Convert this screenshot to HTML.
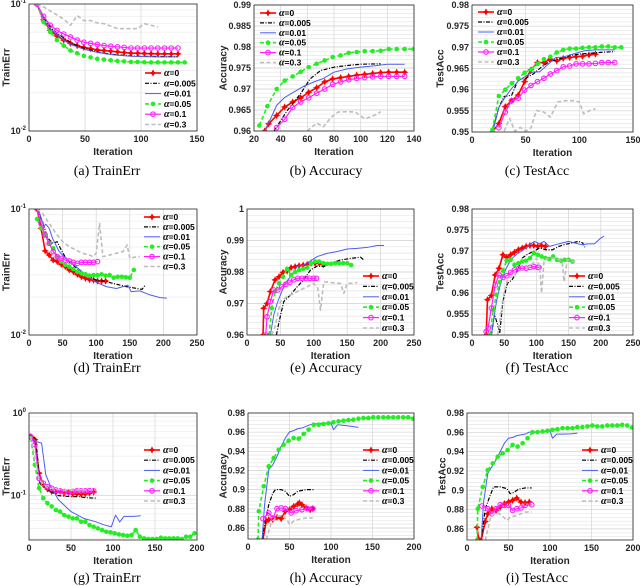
<!DOCTYPE html>
<html><head><meta charset="utf-8">
<style>
html,body{margin:0;padding:0;background:#fff;}
svg{display:block;}
text{font-family:"Liberation Sans",sans-serif;}
.tk{font-size:9px;font-weight:bold;fill:#262626;}
.lg{font-size:8.5px;font-weight:bold;fill:#000;}
.al{font-size:10px;font-weight:bold;fill:#262626;}
.cap{font-family:"Liberation Serif",serif;font-size:14px;fill:#000;}
</style></head>
<body>
<svg id="fig" width="640" height="586" viewBox="0 0 640 586" xmlns="http://www.w3.org/2000/svg"></svg>
<script>
// ---------- Panel (a) TrainErr ----------
const aRx=[7,13,19,25,31,37,43,49,55,61,67,73,79,85,91,97,103,109,115,121,127,133];
const aRy=[0.1,0.075,0.062,0.056,0.052,0.049,0.047,0.0455,0.0445,0.0435,0.043,0.0425,0.042,0.0415,0.041,0.041,0.0408,0.0406,0.0405,0.0405,0.0405,0.0405];
const aKx=[7,13,19,25,31,37,43,49,55,61,67,73,79,85,91,97,103,109,115,121,127,133];
const aKy=[0.1,0.078,0.066,0.059,0.054,0.05,0.047,0.045,0.0435,0.042,0.041,0.0403,0.0398,0.0394,0.039,0.0388,0.0387,0.0386,0.0386,0.0385,0.0385,0.0385];
const aBx=[7,13,19,25,31,37,43,49,55,61,67,73,79,85,91,97,103,109,115,121,127,133];
const aBy=[0.1,0.076,0.064,0.057,0.052,0.048,0.046,0.044,0.0428,0.0416,0.0408,0.04,0.0395,0.0391,0.0388,0.0386,0.0385,0.0384,0.0383,0.0383,0.0383,0.0383];
const aGx=[7,13,19,25,31,37,43,49,55,61,67,73,79,85,91,97,103,109,115,121,127,133,139];
const aGy=[0.1,0.072,0.06,0.052,0.047,0.043,0.041,0.039,0.038,0.037,0.0365,0.036,0.0356,0.0353,0.035,0.035,0.0348,0.0347,0.0347,0.0347,0.0347,0.0347,0.0347];
const aMx=[7,13,19,25,31,37,43,49,55,61,67,73,79,85,91,97,103,109,115,121,127,133];
const aMy=[0.1,0.08,0.068,0.062,0.058,0.055,0.052,0.05,0.049,0.048,0.047,0.0465,0.046,0.0455,0.045,0.045,0.045,0.045,0.045,0.045,0.045,0.045];
const aEx=[7,13,19,25,31,37,43,49,55,61,67,73,79,85,91,97,103,109,115];
const aEy=[0.1,0.095,0.088,0.082,0.076,0.068,0.081,0.074,0.074,0.071,0.07,0.067,0.064,0.064,0.064,0.064,0.07,0.068,0.066];
// ---------- Panel (b) Accuracy ----------
const bRx=[28,31,37,43,49,55,61,67,73,79,85,91,97,103,109,115,121,127,133];
const bRy=[0.96,0.9617,0.9637,0.9657,0.9669,0.9679,0.9692,0.9703,0.9717,0.9724,0.9727,0.973,0.9733,0.9735,0.9737,0.9739,0.974,0.974,0.974];
const bKx=[35,45,55,62,70,80,90,100,115];
const bKy=[0.96,0.9649,0.9689,0.9724,0.9744,0.9752,0.9756,0.9759,0.976];
const bBx=[28,33,37,43,50,57,65,72,80,90,100,110,120,133];
const bBy=[0.96,0.9633,0.9661,0.968,0.9693,0.9706,0.9717,0.9725,0.974,0.9748,0.9752,0.9755,0.9759,0.9759];
const bGx=[24,30,37,43,49,55,61,67,73,79,85,91,97,103,109,115,121,127,133,140];
const bGy=[0.9613,0.9659,0.97,0.972,0.973,0.9741,0.9752,0.976,0.9768,0.9776,0.978,0.9786,0.9788,0.979,0.979,0.9791,0.9795,0.9795,0.9795,0.9795];
const bMx=[37,43,49,55,61,67,73,79,85,91,97,103,109,115,121,127,133];
const bMy=[0.9608,0.9628,0.9656,0.9669,0.9679,0.969,0.97,0.9711,0.9717,0.9722,0.9725,0.9727,0.9729,0.973,0.973,0.973,0.973];
const bEx=[60,67,72,78,83,90,96,103,110,115];
const bEy=[0.96,0.9619,0.961,0.9633,0.9645,0.9646,0.9645,0.9629,0.9637,0.9646];
// ---------- Panel (c) TestAcc ----------
const cRx=[19,25,31,37,43,49,55,61,67,73,79,85,91,97,103,109,115];
const cRy=[0.95,0.952,0.956,0.9574,0.9587,0.9619,0.9647,0.9664,0.9664,0.9672,0.9668,0.9674,0.9676,0.9678,0.9679,0.9682,0.9684];
const cKx=[20,25,30,37,43,50,57,65,72,80,90,100,110,120,133];
const cKy=[0.9511,0.9558,0.9584,0.9587,0.9623,0.9627,0.9637,0.9654,0.9666,0.9672,0.968,0.9684,0.9686,0.9688,0.969];
const cBx=[20,25,30,37,43,50,57,63,70,78,85,95,105,115,133];
const cBy=[0.9507,0.9558,0.9579,0.9603,0.962,0.9632,0.9642,0.9642,0.9658,0.9676,0.9677,0.9685,0.9692,0.9694,0.9694];
const cGx=[19,25,31,37,43,49,55,61,67,73,79,85,91,97,103,109,115,121,127,133,139];
const cGy=[0.9505,0.9585,0.96,0.9615,0.9627,0.964,0.9648,0.9661,0.9672,0.9678,0.9688,0.9694,0.9697,0.9697,0.9699,0.97,0.97,0.9702,0.9702,0.97,0.97];
const cMx=[25,31,37,43,49,55,61,67,73,79,85,91,97,103,109,115,121,127,133];
const cMy=[0.951,0.9547,0.9574,0.958,0.9599,0.961,0.9619,0.9627,0.9637,0.9645,0.9654,0.9656,0.9661,0.9661,0.9661,0.9662,0.9664,0.9664,0.9664];
const cEx=[30,35,40,45,50,55,60,67,73,80,87,95,100,104,110,115];
const cEy=[0.9502,0.9532,0.9502,0.9511,0.9502,0.951,0.9551,0.9547,0.9535,0.9571,0.9574,0.9574,0.9571,0.9543,0.9551,0.9555];
// ---------- Panel (d) TrainErr ----------
const dRx=[12,18,24,30,36,42,48,54,60,66,72,78,84,90,96,102,108,114];
const dRy=[0.1,0.0703,0.0465,0.0431,0.0393,0.0382,0.0364,0.0349,0.0328,0.0318,0.0303,0.029,0.0282,0.0275,0.0272,0.0268,0.0268,0.0268];
const dKx=[12,20,28,36,42,48,55,65,75,85,100,115,130,145,155,168,173];
const dKy=[0.1,0.0794,0.0585,0.0534,0.055,0.0472,0.0406,0.036,0.0328,0.0299,0.0273,0.0265,0.0253,0.0242,0.0237,0.023,0.0249];
const dBx=[14,22,25,30,35,45,55,70,85,100,115,130,140,147,152,165,180,195,205];
const dBy=[0.1,0.0724,0.0757,0.0703,0.0585,0.0459,0.0406,0.0349,0.0299,0.0262,0.0242,0.0234,0.0242,0.0249,0.0221,0.0224,0.0208,0.0198,0.0196];
const dGx=[12,18,24,30,36,42,48,54,60,66,72,78,84,90,96,102,108,114,120,126,132,138,144,150,156];
const dGy=[0.0833,0.0703,0.0622,0.054,0.0488,0.0419,0.0382,0.036,0.0349,0.0334,0.0318,0.0309,0.0303,0.0296,0.0299,0.0299,0.0303,0.0296,0.0299,0.0285,0.029,0.029,0.0287,0.0285,0.0328];
const dMx=[12,18,24,30,36,42,48,54,60,66,72,78,84,90,96,102];
const dMy=[0.1,0.0769,0.0622,0.0534,0.0459,0.0419,0.0406,0.0393,0.0387,0.0377,0.037,0.0377,0.0377,0.0377,0.0377,0.0382];
const dEx=[12,20,30,40,50,60,70,80,90,95,100,105,110,120,130,140,146,150,160,165];
const dEy=[0.1,0.0924,0.0769,0.0641,0.055,0.0502,0.0472,0.0445,0.0431,0.0419,0.0445,0.0769,0.0419,0.0431,0.0445,0.0459,0.0518,0.0406,0.0419,0.0419];
// ---------- Panel (e) Accuracy ----------
const eRx=[24,25,30,35,42,48,54,60,66,72,78,84,90,96,102,108,114];
const eRy=[0.96,0.9685,0.97,0.9738,0.9775,0.9785,0.9799,0.9803,0.9814,0.9817,0.982,0.9822,0.9824,0.9828,0.9828,0.9828,0.9824];
const eKx=[44,48,55,65,75,85,95,105,115,125,140,155,170,175];
const eKy=[0.96,0.9642,0.9706,0.9727,0.9753,0.9775,0.9806,0.9819,0.9817,0.9828,0.9838,0.9843,0.9847,0.9838];
const eBx=[35,40,45,50,57,65,75,85,95,105,120,135,150,165,180,195,205];
const eBy=[0.96,0.9663,0.97,0.9727,0.9764,0.9785,0.9817,0.9822,0.9835,0.9849,0.9859,0.9865,0.9873,0.9875,0.9878,0.9884,0.9884];
const eGx=[33,37,42,48,54,60,66,72,78,84,90,96,102,108,114,120,126,132,138,144,150,156];
const eGy=[0.96,0.9685,0.9738,0.9764,0.9785,0.981,0.979,0.98,0.9806,0.981,0.9814,0.9828,0.9833,0.9833,0.9828,0.9826,0.9826,0.9828,0.9828,0.9828,0.9828,0.9822];
const eMx=[28,30,35,40,46,52,58,64,70,76,82,88,94,100,104];
const eMy=[0.96,0.9658,0.9706,0.9743,0.9743,0.9753,0.9761,0.9767,0.9775,0.978,0.978,0.978,0.978,0.978,0.978];
const eEx=[37,42,50,60,70,80,90,100,106,110,115,125,135,140,145,150,160,165];
const eEy=[0.96,0.9626,0.9706,0.9722,0.9732,0.9743,0.9753,0.9764,0.9748,0.9679,0.9769,0.9767,0.9764,0.9764,0.9732,0.9764,0.9764,0.9767];
// ---------- Panel (f) TestAcc ----------
const fRx=[22,24,30,36,42,48,54,60,66,72,78,84,90,96,102,108,114];
const fRy=[0.95,0.9584,0.9594,0.9643,0.9659,0.9691,0.9685,0.9691,0.9697,0.9703,0.9707,0.9711,0.9713,0.9713,0.9711,0.9713,0.9711];
const fKx=[30,35,40,43,48,55,62,70,78,85,95,105,115,125,135,145,155,165,172,175];
const fKy=[0.95,0.9548,0.9524,0.9504,0.958,0.9623,0.9631,0.9651,0.9683,0.9691,0.9699,0.9707,0.9703,0.9703,0.9711,0.9716,0.9719,0.9723,0.9719,0.9709];
const fBx=[30,38,45,52,60,70,80,90,97,105,112,120,130,140,150,160,170,180,190,200,205];
const fBy=[0.95,0.958,0.9627,0.9655,0.9679,0.9693,0.9703,0.9715,0.9723,0.9717,0.9723,0.9711,0.9715,0.9719,0.9723,0.9719,0.9715,0.9717,0.9717,0.9731,0.9735];
const fGx=[28,33,38,43,48,54,60,66,72,78,84,90,96,102,108,114,120,126,132,138,144,150,156];
const fGy=[0.95,0.956,0.9596,0.9626,0.9653,0.9677,0.9679,0.9667,0.9671,0.9675,0.9677,0.9683,0.9695,0.9691,0.9687,0.9683,0.9681,0.9687,0.9679,0.9677,0.9679,0.9679,0.9675];
const fMx=[22,25,30,36,42,48,54,60,66,72,78,84,90,96,102,104];
const fMy=[0.9508,0.9516,0.9564,0.9619,0.9643,0.9637,0.9641,0.9649,0.9655,0.9658,0.9659,0.9659,0.9661,0.9663,0.9661,0.9661];
const fEx=[40,48,55,65,75,85,95,100,105,108,112,120,130,140,143,148,155,160];
const fEy=[0.95,0.9588,0.9631,0.9643,0.9653,0.9659,0.9671,0.9683,0.9663,0.96,0.9679,0.9683,0.9683,0.9675,0.9627,0.9679,0.9677,0.9671];
// ---------- Panel (g) TrainErr ----------
const gRx=[2,7,12,17,22,27,32,37,42,47,52,57,62,67,72,77];
const gRy=[0.52,0.475,0.187,0.135,0.12,0.112,0.11,0.112,0.107,0.109,0.105,0.105,0.104,0.105,0.107,0.11];
const gKx=[2,8,13,18,25,35,50,60,70,80];
const gKy=[0.51,0.5,0.141,0.128,0.112,0.1,0.097,0.097,0.094,0.093];
const gBx=[2,8,15,20,25,35,50,65,80,90,98,103,108,113,125,133];
const gBy=[0.52,0.453,0.432,0.178,0.135,0.089,0.064,0.053,0.048,0.044,0.042,0.058,0.048,0.056,0.056,0.057];
const gGx=[2,7,12,17,22,27,32,37,42,47,52,57,62,67,72,77,82,87,92,97,102,107,112,117,122,127,132,137,142,147,152,157,162,167,172,177,182,187,192,197];
const gGy=[0.497,0.236,0.123,0.093,0.081,0.074,0.067,0.064,0.058,0.0556,0.053,0.053,0.0483,0.0483,0.044,0.042,0.0401,0.0383,0.0365,0.0359,0.0349,0.0339,0.0333,0.0327,0.0333,0.0383,0.0318,0.0303,0.0298,0.0298,0.0298,0.0309,0.0303,0.0303,0.0303,0.0303,0.0298,0.0318,0.0318,0.0349];
const gMx=[2,7,12,17,22,27,32,37,42,47,52,57,62,67,72,77];
const gMy=[0.52,0.412,0.162,0.141,0.128,0.123,0.117,0.114,0.112,0.11,0.112,0.114,0.114,0.114,0.115,0.114];
const gEx=[2,12,22,40,60,78];
const gEy=[0.52,0.155,0.124,0.117,0.117,0.117];
// ---------- Panel (h) Accuracy ----------
const hRx=[18,22,25,30,35,40,45,50,55,60,62,65,70,75,78];
const hRy=[0.848,0.867,0.8687,0.8687,0.8711,0.8697,0.8774,0.8791,0.8826,0.885,0.8861,0.8843,0.8809,0.8791,0.8802];
const hKx=[17,20,25,30,33,40,45,50,55,60,70,80];
const hKy=[0.848,0.8635,0.8843,0.8965,0.9,0.9,0.8983,0.893,0.8948,0.8983,0.9,0.9];
const hBx=[17,20,25,30,35,40,45,50,55,60,65,70,75,80,90,100,103,108,115,125,133];
const hBy=[0.848,0.8843,0.9209,0.9261,0.9348,0.9452,0.9539,0.9602,0.9616,0.9637,0.9643,0.9661,0.9678,0.9685,0.9696,0.9696,0.9626,0.9678,0.9671,0.9661,0.965];
const hGx=[12,13,19,25,31,37,43,49,55,61,67,73,79,85,91,97,103,109,115,121,127,133,139,145,151,157,163,169,175,181,187,193,199];
const hGy=[0.848,0.8774,0.9035,0.9244,0.933,0.9417,0.947,0.9511,0.9539,0.9532,0.9581,0.9626,0.9678,0.9678,0.9685,0.9692,0.9703,0.9713,0.972,0.9727,0.973,0.9741,0.9748,0.9748,0.9755,0.9755,0.9755,0.9755,0.9755,0.9755,0.9755,0.9755,0.9741];
const hMx=[18,25,30,35,40,45,52,58,65,72,78];
const hMy=[0.8697,0.8757,0.8704,0.8802,0.8809,0.8802,0.8757,0.8781,0.8791,0.8802,0.8802];
const hEx=[22,28,35,42,48,50,55,60,70,78];
const hEy=[0.848,0.8652,0.8722,0.8732,0.867,0.8635,0.867,0.8687,0.8704,0.8704];
// ---------- Panel (i) TestAcc ----------
const iRx=[12,14,17,22,25,30,35,40,45,50,55,60,65,70,75];
const iRy=[0.8617,0.8495,0.848,0.8676,0.8757,0.8809,0.8791,0.8826,0.8861,0.8878,0.8896,0.892,0.8878,0.8871,0.8878];
const iKx=[17,22,28,32,40,48,52,56,62,70,78];
const iKy=[0.848,0.8809,0.8948,0.9035,0.9035,0.9017,0.8965,0.8976,0.901,0.9024,0.9024];
const iBx=[17,20,25,30,35,40,45,50,55,60,65,70,75,85,95,100,103,108,115,125,133];
const iBy=[0.848,0.8878,0.9174,0.9243,0.9313,0.94,0.9487,0.9539,0.9546,0.9567,0.9574,0.9581,0.9602,0.9602,0.9609,0.9616,0.9539,0.9581,0.9581,0.9584,0.9591];
const iGx=[12,13,19,25,31,37,43,49,55,61,67,73,79,85,91,97,103,109,115,121,127,133,139,145,151,157,163,169,175,181,187,193,199];
const iGy=[0.848,0.8809,0.9035,0.9209,0.9278,0.9348,0.9383,0.9417,0.947,0.9452,0.9487,0.9539,0.9602,0.9602,0.9609,0.9616,0.9626,0.9633,0.9643,0.9643,0.9643,0.9654,0.9654,0.9661,0.9671,0.9661,0.9661,0.9671,0.9671,0.9671,0.9678,0.9671,0.965];
const iMx=[18,25,30,35,40,45,50,55,60,65,70,78];
const iMy=[0.8837,0.8809,0.8757,0.8809,0.885,0.8843,0.8843,0.8791,0.8809,0.8816,0.8843,0.885];
const iEx=[22,28,35,42,48,52,60,70,78];
const iEy=[0.848,0.8704,0.8774,0.8739,0.8687,0.8722,0.8739,0.8774,0.8774];
// ---------- Tick labels ----------
const xt150=[0,50,100,150];
const xt140=[20,40,60,80,100,120,140];
const xt250=[0,50,100,150,200,250];
const xt200=[0,50,100,150,200];
const ytB=[0.96,0.965,0.97,0.975,0.98,0.985,0.99];
const ytC=[0.95,0.955,0.96,0.965,0.97,0.975,0.98];
const ytE=[0.96,0.97,0.98,0.99,1];
const ytH=[0.86,0.88,0.9,0.92,0.94,0.96,0.98];
const ytLogA=[-2,-1];
const ytLogG=[-1,0];
const legendLabels=['0','0.005','0.01','0.05','0.1','0.3'];

const NS='http://www.w3.org/2000/svg';
const svg=document.getElementById('fig');
function mk(tag,attrs,parent){const e=document.createElementNS(NS,tag);for(const k in attrs)e.setAttribute(k,attrs[k]);(parent||svg).appendChild(e);return e;}

const styles=[
 {c:'#ff0000',w:1.6,d:'',mk:'star'},
 {c:'#000000',w:1.2,d:'4,1.5,1,1.5',mk:''},
 {c:'#4a5ff0',w:1,d:'',mk:''},
 {c:'#22ee22',w:1.6,d:'4,2.5',mk:'dot'},
 {c:'#ff22ff',w:1.2,d:'',mk:'circ'},
 {c:'#bdbdbd',w:1.6,d:'4,2.5',mk:''}
];

const panels=[
 {id:'a',box:[29,4,197,131],xr:[0,150],yr:[0.01,0.1],log:true,xt:xt150,yt:ytLogA,ylab:'TrainErr',cap:'(a) TrainErr',ylx:6,leg:[145,73,10.3],
  s:[[aRx,aRy],[aKx,aKy],[aBx,aBy],[aGx,aGy],[aMx,aMy],[aEx,aEy]]},
 {id:'b',box:[254,5,414,131],xr:[20,140],yr:[0.96,0.99],log:false,xt:xt140,yt:ytB,minor:0.001,ylab:'Accuracy',cap:'(b) Accuracy',ylx:223,leg:[260,13,9.9],
  s:[[bRx,bRy],[bKx,bKy],[bBx,bBy],[bGx,bGy],[bMx,bMy],[bEx,bEy]]},
 {id:'c',box:[472,5,633,132],xr:[0,150],yr:[0.95,0.98],log:false,xt:xt150,yt:ytC,minor:0.001,ylab:'TestAcc',cap:'(c) TestAcc',ylx:440,leg:[478,12,10],
  s:[[cRx,cRy],[cKx,cKy],[cBx,cBy],[cGx,cGy],[cMx,cMy],[cEx,cEy]]},
 {id:'d',box:[29,209,197,335],xr:[0,250],yr:[0.01,0.1],log:true,xt:xt250,yt:ytLogA,ylab:'TrainErr',cap:'(d) TrainErr',ylx:6,leg:[144,217,9.9],
  s:[[dRx,dRy],[dKx,dKy],[dBx,dBy],[dGx,dGy],[dMx,dMy],[dEx,dEy]]},
 {id:'e',box:[247,209,414,335],xr:[0,250],yr:[0.96,1],log:false,xt:xt250,yt:ytE,minor:0.002,ylab:'Accuracy',cap:'(e) Accuracy',ylx:223,leg:[363,276,10.4],
  s:[[eRx,eRy],[eKx,eKy],[eBx,eBy],[eGx,eGy],[eMx,eMy],[eEx,eEy]]},
 {id:'f',box:[472,209,633,335],xr:[0,250],yr:[0.95,0.98],log:false,xt:xt250,yt:ytC,minor:0.001,ylab:'TestAcc',cap:'(f) TestAcc',ylx:440,leg:[569,276,10.4],
  s:[[fRx,fRy],[fKx,fKy],[fBx,fBy],[fGx,fGy],[fMx,fMy],[fEx,fEy]]},
 {id:'g',box:[29,413,197,540],xr:[0,200],yr:[0.029,1],log:true,xt:xt200,yt:ytLogG,ylab:'TrainErr',cap:'(g) TrainErr',ylx:6,leg:[144,450,10.2],
  s:[[gRx,gRy],[gKx,gKy],[gBx,gBy],[gGx,gGy],[gMx,gMy],[gEx,gEy]]},
 {id:'h',box:[248,413,414,539],xr:[0,200],yr:[0.8485,0.98],log:false,xt:xt200,yt:ytH,minor:0.004,ylab:'Accuracy',cap:'(h) Accuracy',ylx:223,leg:[363,450,10.2],
  s:[[hRx,hRy],[hKx,hKy],[hBx,hBy],[hGx,hGy],[hMx,hMy],[hEx,hEy]]},
 {id:'i',box:[467,413,633,540],xr:[0,200],yr:[0.8485,0.98],log:false,xt:xt200,yt:ytH,minor:0.004,ylab:'TestAcc',cap:'(i) TestAcc',ylx:442,leg:[582,450,10.2],
  s:[[iRx,iRy],[iKx,iKy],[iBx,iBy],[iGx,iGy],[iMx,iMy],[iEx,iEy]]}
];

function marker(g,type,x,y,c){
  if(type==='star'){
    mk('path',{d:`M${x} ${y-3}L${x+1} ${y-1}L${x+3} ${y}L${x+1} ${y+1}L${x} ${y+3}L${x-1} ${y+1}L${x-3} ${y}L${x-1} ${y-1}Z`,fill:c,stroke:c,'stroke-width':0.6},g);
  }else if(type==='dot'){
    mk('circle',{cx:x,cy:y,r:2.3,fill:c},g);
  }else if(type==='circ'){
    mk('circle',{cx:x,cy:y,r:2.3,fill:'none',stroke:c,'stroke-width':1.1},g);
  }
}

panels.forEach(p=>{
  const [x0,y0,x1,y1]=p.box;
  const g=mk('g',{});
  
  
  const sx=v=>x0+(v-p.xr[0])/(p.xr[1]-p.xr[0])*(x1-x0);
  const sy=p.log
    ?v=>y1-(Math.log10(v)-Math.log10(p.yr[0]))/(Math.log10(p.yr[1])-Math.log10(p.yr[0]))*(y1-y0)
    :v=>y1-(v-p.yr[0])/(p.yr[1]-p.yr[0])*(y1-y0);
  mk('rect',{x:x0,y:y0,width:x1-x0,height:y1-y0,fill:'#fff'},g);
  // grid
  const grid=mk('g',{stroke:'#e3e3e3','stroke-width':0.7},g);
  
  
  if(p.log){
    const lo=Math.log10(p.yr[0]),hi=Math.log10(p.yr[1]);
    for(let d=Math.floor(lo);d<hi;d++){for(let m=1;m<10;m++){const v=m*Math.pow(10,d);if(v<p.yr[0]||v>p.yr[1])continue;const yy=sy(v);mk('line',{x1:x0,x2:x1,y1:yy,y2:yy,stroke:m===1?'#d6d6d6':'#ececec'},grid);}}
  }else{
    const n=Math.round((p.yr[1]-p.yr[0])/p.minor);
    const start=Math.ceil(p.yr[0]/p.minor-1e-6);
    for(let k=start;k*p.minor<=p.yr[1]+1e-9;k++){const yy=sy(k*p.minor);mk('line',{x1:x0,x2:x1,y1:yy,y2:yy,stroke:'#e6e6e6'},grid);}
    p.yt.forEach(v=>{const yy=sy(v);mk('line',{x1:x0,x2:x1,y1:yy,y2:yy,stroke:'#d4d4d4'},grid);});
  }
  p.xt.forEach(v=>{const xx=sx(v);mk('line',{x1:xx,x2:xx,y1:y0,y2:y1,stroke:'#d4d4d4'},grid);});
  // clip
  const cp=mk('clipPath',{id:'clip'+p.id},g);
  mk('rect',{x:x0,y:y0,width:x1-x0,height:y1-y0},cp);
  // series
  p.s.forEach((sd,si)=>{
    const st=styles[si];
    const sg=mk('g',{'clip-path':`url(#clip${p.id})`},g);
    
    
    const xs=sd[0],ys=sd[1];
    let d='';
    xs.forEach((xv,k)=>{d+=(k?'L':'M')+sx(xv).toFixed(2)+' '+sy(ys[k]).toFixed(2);});
    const path=mk('path',{d:d,fill:'none',stroke:st.c,'stroke-width':st.w,'stroke-dasharray':st.d,'stroke-linejoin':'round'},sg);
    
    
    if(st.mk){xs.forEach((xv,k)=>marker(sg,st.mk,sx(xv),sy(ys[k]),st.c));}
  });
  // axes box
  const ax=mk('rect',{x:x0,y:y0,width:x1-x0,height:y1-y0,fill:'none',stroke:'#262626','stroke-width':0.8},g);
  
  
  // x tick labels
  p.xt.forEach(v=>{
    const t=mk('text',{x:sx(v),y:y1+11,'text-anchor':'middle',class:'tk'},g);
    t.textContent=String(v);
    
    
  });
  // y tick labels
  p.yt.forEach(v=>{
    if(p.log){
      const t=mk('text',{x:x0-3,y:sy(Math.pow(10,v))+3,'text-anchor':'end',class:'tk'},g);
      
      
      const a=mk('tspan',{},t);a.textContent='10';
      const b=mk('tspan',{dy:-4,'font-size':'6px'},t);b.textContent=String(v);
    }else{
      const t=mk('text',{x:x0-3,y:sy(v)+3,'text-anchor':'end',class:'tk'},g);
      t.textContent=String(v);
      
      
    }
  });
  // axis labels
  const xl=mk('text',{x:(x0+x1)/2,y:y1+24,'text-anchor':'middle',class:'al'},g);
  xl.textContent='Iteration';
  
  
  const yc=(y0+y1)/2;
  const yl=mk('text',{x:p.ylx,y:yc,'text-anchor':'middle',class:'al',transform:`rotate(-90 ${p.ylx} ${yc})`,dy:'3.5'},g);
  yl.textContent=p.ylab;
  
  
  // legend
  const lg=mk('g',{},g);
  
  
  const [lx,ly,ldy]=p.leg;
  legendLabels.forEach((lab,si)=>{
    const st=styles[si];const yy=ly+si*ldy;
    const e=mk('g',{},lg);
    
    
    mk('line',{x1:lx,x2:lx+16,y1:yy,y2:yy,stroke:st.c,'stroke-width':st.w,'stroke-dasharray':st.d},e);
    if(st.mk)marker(e,st.mk,lx+8,yy,st.c);
    const t=mk('text',{x:lx+19,y:yy+3,class:'lg'},e);
    const a=mk('tspan',{'font-family':'Liberation Serif, serif','font-style':'italic','font-size':'10px'},t);a.textContent='α';
    const b=mk('tspan',{},t);b.textContent='='+lab;
  });
  // caption
  const capY={a:175,b:175,c:175,d:372,e:372,f:372,g:582,h:582,i:582}[p.id];
  const cx={a:107,b:326,c:537,d:107,e:326,f:537,g:107,h:326,i:537}[p.id];
  const c=mk('text',{x:cx,y:capY,'text-anchor':'middle',class:'cap'},g);
  c.textContent=p.cap;
  
  
});
</script>
</body></html>
